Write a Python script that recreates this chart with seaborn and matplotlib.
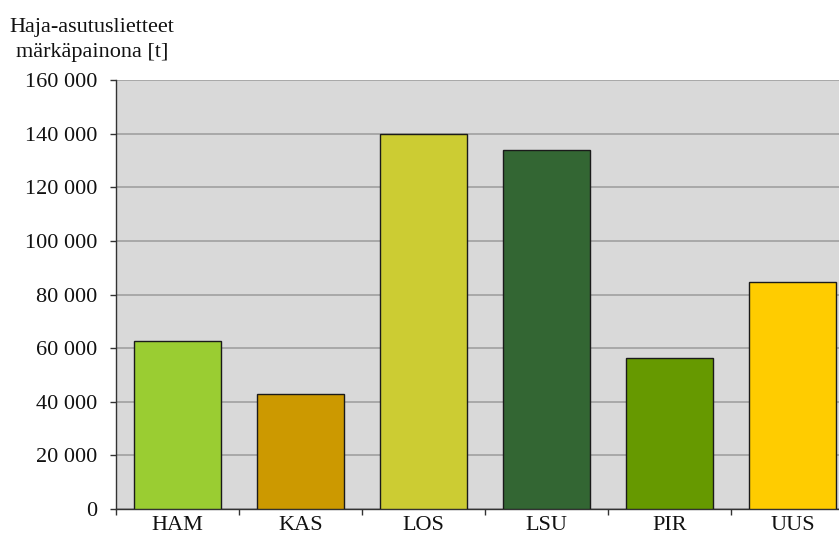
import matplotlib
matplotlib.use("Agg")
import matplotlib.pyplot as plt
import seaborn as sns
import pandas as pd
from matplotlib.ticker import FixedLocator, FuncFormatter

categories = ["HAM", "KAS", "LOS", "LSU", "PIR", "UUS"]
values = [62700, 43000, 140000, 134000, 56200, 84800]
colors = ["#9acd32", "#cc9900", "#cccc33", "#336633", "#669900", "#ffcc00"]
yticks = [0, 20000, 40000, 60000, 80000, 100000, 120000, 140000, 160000]
title_lines = ["Haja-asutuslietteet", "märkäpainona [t]"]

df = pd.DataFrame({"cat": categories, "val": values})

sns.set_theme(style="white")
plt.rcParams["font.family"] = ["Liberation Serif", "DejaVu Serif"]

fig = plt.figure(figsize=(8.39, 5.35), dpi=100)
ax = fig.add_axes([116 / 839, 26 / 535, 738 / 839, 429 / 535])
ax.set_facecolor("#d9d9d9")

sns.barplot(data=df, x="cat", y="val", hue="cat", palette=colors, legend=False,
            width=0.715, edgecolor="#1a1a1a", linewidth=1.0, saturation=1, ax=ax,
            zorder=3)

ax.set_ylim(0, 160000)
ax.set_xlim(-0.5, len(categories) - 0.5)
ax.set_yticks(yticks)
ax.yaxis.set_major_formatter(FuncFormatter(lambda v, p: f"{int(v):,}".replace(",", " ")))
ax.grid(axis="y", color="#a0a0a0", linewidth=1.2, zorder=0)
ax.set_axisbelow(True)

ax.set_xlabel("")
ax.set_ylabel("")
for s in ["top", "right"]:
    ax.spines[s].set_visible(False)
for s in ["left", "bottom"]:
    ax.spines[s].set_color("#333333")
    ax.spines[s].set_linewidth(1.0)

fs = 16
ax.tick_params(axis="y", which="major", direction="out", length=4.3, width=1,
               color="#333333", labelsize=fs, pad=9, left=True, labelcolor="#111111")
ax.tick_params(axis="x", which="major", length=0, labelsize=fs, pad=5,
               labelcolor="#111111")
ax.xaxis.set_minor_locator(FixedLocator([i - 0.5 for i in range(len(categories) + 1)]))
ax.tick_params(axis="x", which="minor", direction="out", length=4.3, width=1,
               color="#333333", bottom=True)

fig.text(92 / 839, 1 - 32 / 535, title_lines[0], ha="center", va="baseline",
         fontsize=fs, color="#111111")
fig.text(92 / 839, 1 - 57 / 535, title_lines[1], ha="center", va="baseline",
         fontsize=fs, color="#111111")

fig.savefig("out.png", dpi=100)
